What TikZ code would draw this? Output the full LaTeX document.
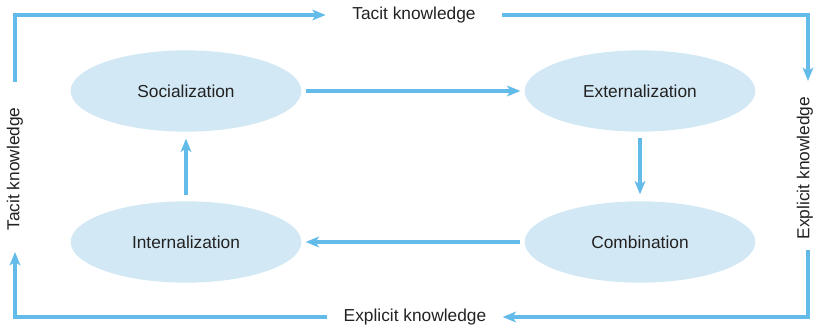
\documentclass[tikz,border=0pt]{standalone}
\usepackage{fontspec}
\setmainfont{Liberation Sans}
\usetikzlibrary{arrows.meta,shapes.geometric}
\definecolor{flowblue}{HTML}{62BBE8}
\definecolor{phasefill}{HTML}{D3E8F5}
\definecolor{ink}{HTML}{222222}
\begin{document}
\begin{tikzpicture}[x=0.75pt,y=-0.75pt,
  font=\fontsize{13}{15}\selectfont, text=ink,
  phase/.style={ellipse, fill=phasefill, draw=none,
    minimum width=173pt, minimum height=61pt, inner sep=0pt},
  flow/.style={draw=flowblue, line width=2.3pt,
    -{Stealth[length=10pt,width=8pt,inset=2.5pt]}},
  sidelabel/.style={inner sep=0pt}]
\useasboundingbox (0,0) rectangle (815,327);

% the four SECI phases
\node[phase] (soc) at (186,91)  {Socialization};
\node[phase] (ext) at (640,91)  {Externalization};
\node[phase] (com) at (640,242) {Combination};
\node[phase] (int) at (186,242) {Internalization};

% inner cycle
\draw[flow, shorten <=3pt, shorten >=3pt] (soc) -- (ext);
\draw[flow, shorten <=4.5pt, shorten >=5pt] (ext) -- (com);
\draw[flow, shorten <=3pt, shorten >=3pt] (com) -- (int);
\draw[flow, shorten <=4.5pt, shorten >=5pt] (int) -- (soc);

% outer frame labels
\node[sidelabel, minimum width=132pt, minimum height=12pt] (tacitT) at (414,15) {Tacit knowledge};
\node[sidelabel, minimum width=131pt, minimum height=12pt] (explB) at (415,317) {Explicit knowledge};
\node[sidelabel, rotate=90] (tacitL) at (15,169) {Tacit knowledge};
\node[sidelabel, rotate=90] (explR) at (805,168) {Explicit knowledge};

% outer frame ends
\coordinate (lefttop) at (15,82);
\coordinate (righttop) at (808,81);
\coordinate (rightbot) at (808,250);
\coordinate (leftbot) at (15,252);

\draw[flow] (lefttop) |- (tacitT.west);
\draw[flow] (tacitT.east) -| (righttop);
\draw[flow] (rightbot) |- (explB.east);
\draw[flow] (explB.west) -| (leftbot);
\end{tikzpicture}
\end{document}
